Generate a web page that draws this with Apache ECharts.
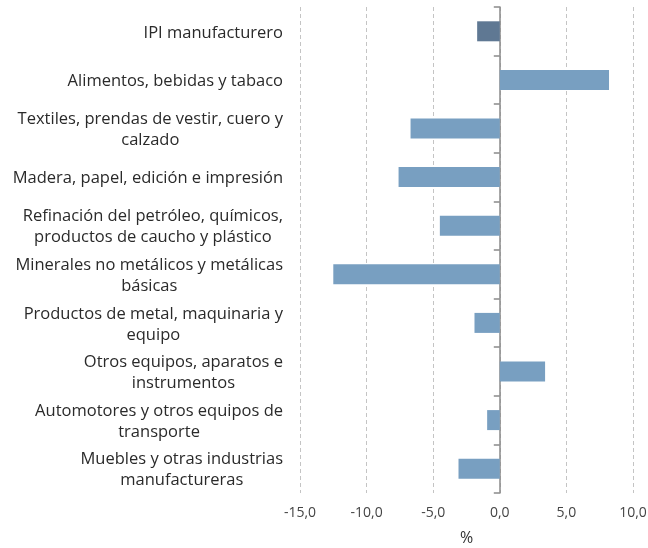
<!DOCTYPE html>
<html>
<head>
<meta charset="utf-8">
<script src="https://cdn.jsdelivr.net/npm/echarts@6/dist/echarts.min.js"></script>
<style>
  html, body { margin: 0; padding: 0; background: #fff; }
  #chart { width: 648px; height: 548px; }
</style>
</head>
<body>
<div id="chart"></div>
<script>
// sectores (las etiquetas largas van partidas en dos lineas)
var sectores = [
  'IPI manufacturero',
  'Alimentos, bebidas y tabaco',
  'Textiles, prendas de vestir, cuero y\ncalzado',
  'Madera, papel, edición e impresión',
  'Refinación del petróleo, químicos,\nproductos de caucho y plástico',
  'Minerales no metálicos y metálicas\nbásicas',
  'Productos de metal, maquinaria y\nequipo',
  'Otros equipos, aparatos e\ninstrumentos',
  'Automotores y otros equipos de\ntransporte',
  'Muebles y otras industrias\nmanufactureras'
]
// variacion anual (%)
var variacion = [-1.7, 8.2, -6.7, -7.6, -4.5, -12.5, -1.9, 3.4, -0.95, -3.1]

var colorTotal = '#5f7893'
var colorSector = '#789fc1'
var fuente = 'Open Sans'

var chart = echarts.init(document.getElementById('chart'))

var option = {
  animation: false,
  textStyle: { fontFamily: fuente },
  grid: { left: 300, right: 15, top: 7, bottom: 55, outerBoundsMode: 'none' },
  xAxis: {
    type: 'value',
    min: -15,
    max: 10,
    interval: 5,
    name: '%',
    nameLocation: 'middle',
    nameGap: 37,
    nameTextStyle: { fontSize: 16, color: '#333', fontFamily: fuente },
    axisLine: { show: false },
    axisTick: { show: false },
    axisLabel: {
      margin: 13,
      fontSize: 14,
      color: '#444',
      fontFamily: fuente,
      formatter: function (v) { return v.toFixed(1).replace('.', ',') }
    },
    splitLine: {
      show: true,
      lineStyle: { color: '#c4c4c4', type: [4, 3], width: 1 }
    }
  },
  yAxis: [
    {
      type: 'category',
      data: sectores,
      inverse: true,
      position: 'left',
      axisLine: { show: false, onZero: false },
      axisTick: { show: false },
      axisLabel: {
        margin: 17,
        fontSize: 16.5,
        color: '#2a2a2a',
        lineHeight: 21,
        formatter: function (v) {
          return v.split('\n').map(function (l) { return '{c|' + l + '}' }).join('\n')
        },
        rich: {
          c: { align: 'center', fontSize: 16.5, lineHeight: 21, color: '#2a2a2a', fontFamily: fuente, padding: [3, 0, 0, 0] }
        }
      }
    },
    {
      type: 'category',
      data: sectores,
      inverse: true,
      position: 'left',
      axisLine: { show: true, onZero: true, lineStyle: { color: '#8a8a8a', width: 1.5 } },
      axisTick: { show: true, inside: false, length: 6, lineStyle: { color: '#8a8a8a', width: 1.5 } },
      axisLabel: { show: false }
    }
  ],
  series: [
    {
      type: 'bar',
      yAxisIndex: 0,
      barWidth: 20,
      z: 1,
      data: variacion.map(function (v, i) {
        return {
          value: v,
          itemStyle: { color: i === 0 ? colorTotal : colorSector }
        }
      })
    }
  ]
}

chart.setOption(option)
</script>
</body>
</html>
